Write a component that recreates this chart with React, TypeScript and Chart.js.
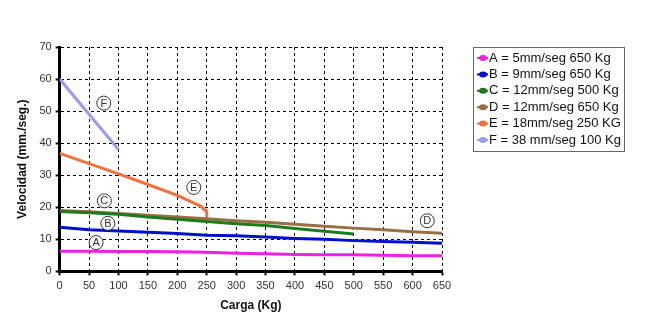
import React, { useEffect, useRef } from "react";
import { Chart, registerables } from "chart.js";

Chart.register(...registerables);

const loadsFull = [0, 50, 100, 150, 200, 250, 300, 350, 400, 450, 500, 550, 600, 650];
const seriesA = [6.3, 6.3, 6.2, 6.2, 6.1, 6.0, 5.7, 5.5, 5.3, 5.2, 5.2, 5.0, 4.9, 4.9];
const seriesB = [13.8, 13.0, 12.6, 12.2, 11.8, 11.3, 11.1, 10.7, 10.3, 10.0, 9.6, 9.3, 9.1, 8.8];
const loadsC = [0, 50, 100, 150, 200, 250, 300, 350, 400, 450, 500];
const seriesC = [18.7, 18.3, 17.8, 17.0, 16.3, 15.6, 14.9, 14.3, 13.4, 12.5, 11.7];
const seriesD = [19.0, 18.6, 18.1, 17.5, 17.0, 16.4, 15.8, 15.3, 14.7, 14.1, 13.5, 13.0, 12.4, 11.9];
const loadsE = [0, 50, 100, 150, 200, 240, 250, 250];
const seriesE = [36.8, 33.6, 30.4, 27.1, 23.7, 20.3, 18.6, 16.5];
const loadsF = [0, 100];
const seriesF = [60, 38];

const legendLabels = [
  "A = 5mm/seg 650 Kg",
  "B = 9mm/seg 650 Kg",
  "C = 12mm/seg 500 Kg",
  "D = 12mm/seg 650 Kg",
  "E = 18mm/seg 250 KG",
  "F = 38 mm/seg 100 Kg",
];
const colors = ["#F020E0", "#0010C8", "#1E7A1E", "#9A6E44", "#F07040", "#9C9CEC"];

const markLetters = ["F", "E", "C", "B", "A", "D"];
const markX = [75, 228, 76, 82, 62, 625];
const markY = [52.5, 26.2, 22, 15, 9, 15.8];

const xTicks = [0, 650, 50];
const yTicks = [0, 70, 10];

function pts(xs: number[], ys: number[]) {
  return ys.map((y, i) => ({ x: xs[i], y }));
}

const circleLabels = {
  id: "circleLabels",
  afterDatasetsDraw(chart: any) {
    const ctx = chart.ctx;
    const xs = chart.scales.x;
    const ys = chart.scales.y;
    ctx.save();
    markLetters.forEach((l, i) => {
      const px = xs.getPixelForValue(markX[i]);
      const py = ys.getPixelForValue(markY[i]);
      ctx.beginPath();
      ctx.arc(px, py, 7, 0, Math.PI * 2);
      ctx.fillStyle = "#fff";
      ctx.fill();
      ctx.strokeStyle = "#333";
      ctx.lineWidth = 1;
      ctx.stroke();
      ctx.fillStyle = "#333";
      ctx.font = "11px 'Liberation Sans', Arial, sans-serif";
      ctx.textAlign = "center";
      ctx.textBaseline = "middle";
      ctx.fillText(l, px, py + 0.5);
    });
    ctx.restore();
  },
};

const boxLegend = {
  id: "boxLegend",
  afterDraw(chart: any) {
    const ctx = chart.ctx;
    const left = 473;
    const top = 47;
    const w = 151;
    const h = 104;
    ctx.save();
    ctx.strokeStyle = "#666";
    ctx.lineWidth = 1;
    ctx.strokeRect(left + 0.5, top + 0.5, w, h);
    ctx.font = "13px 'Liberation Sans', Arial, sans-serif";
    ctx.textBaseline = "middle";
    ctx.textAlign = "left";
    legendLabels.forEach((lab, i) => {
      const cy = top + 11 + i * 16.4;
      ctx.strokeStyle = colors[i];
      ctx.lineWidth = 2;
      ctx.beginPath();
      ctx.moveTo(left + 4, cy);
      ctx.lineTo(left + 15, cy);
      ctx.stroke();
      ctx.fillStyle = colors[i];
      ctx.beginPath();
      ctx.ellipse(left + 10, cy, 4, 3, 0, 0, Math.PI * 2);
      ctx.fill();
      ctx.fillStyle = "#111";
      ctx.fillText(lab, left + 16, cy);
    });
    ctx.restore();
  },
};

export default function App() {
  const ref = useRef<HTMLCanvasElement>(null);
  useEffect(() => {
    if (!ref.current) return;
    const mk = (xs: number[], ys: number[], i: number) => ({
      label: legendLabels[i],
      data: pts(xs, ys),
      borderColor: colors[i],
      backgroundColor: colors[i],
      borderWidth: 3,
      pointRadius: 0,
      tension: 0,
    });
    const chart = new Chart(ref.current, {
      type: "line",
      data: {
        datasets: [
          mk(loadsFull, seriesA, 0),
          mk(loadsFull, seriesB, 1),
          mk(loadsC, seriesC, 2),
          mk(loadsFull, seriesD, 3),
          mk(loadsE, seriesE, 4),
          mk(loadsF, seriesF, 5),
        ],
      },
      options: {
        animation: false,
        responsive: true,
        maintainAspectRatio: false,
        layout: { padding: { left: 15, right: 208, top: 47, bottom: 18 } },
        plugins: { legend: { display: false }, tooltip: { enabled: false } },
        scales: {
          x: {
            type: "linear",
            min: xTicks[0],
            max: xTicks[1],
            ticks: {
              stepSize: xTicks[2],
              color: "#333",
              font: { size: 11, family: "'Liberation Sans', Arial, sans-serif" },
              maxRotation: 0,
              padding: 4,
            },
            grid: {
              color: "#000",
              lineWidth: 1,
              tickColor: "#000",
              tickLength: 4,
              tickWidth: 2,
            },
            border: { display: true, color: "#000", width: 3, dash: [3, 3] },
            title: {
              display: true,
              text: "Carga (Kg)",
              color: "#111",
              font: { size: 12, weight: "bold", family: "'Liberation Sans', Arial, sans-serif" },
              padding: { top: 2, bottom: 0 },
            },
          },
          y: {
            min: yTicks[0],
            max: yTicks[1],
            ticks: {
              stepSize: yTicks[2],
              color: "#333",
              font: { size: 11, family: "'Liberation Sans', Arial, sans-serif" },
              padding: 4,
            },
            grid: {
              color: "#000",
              lineWidth: 1,
              tickColor: "#000",
              tickLength: 4,
              tickWidth: 2,
            },
            border: { display: true, color: "#000", width: 3, dash: [3, 3] },
            title: {
              display: true,
              text: "Velocidad (mm./seg.)",
              color: "#111",
              font: { size: 12, weight: "bold", family: "'Liberation Sans', Arial, sans-serif" },
              padding: { top: 0, bottom: 6 },
            },
          },
        },
      },
      plugins: [circleLabels, boxLegend],
    });
    return () => chart.destroy();
  }, []);
  return (
    <div style={{ position: "absolute", left: 0, top: 0, width: 650, height: 331, background: "#fff" }}>
      <canvas ref={ref} />
    </div>
  );
}
